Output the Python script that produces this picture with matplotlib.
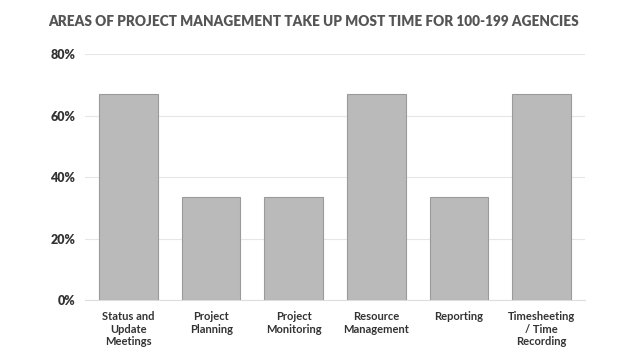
import matplotlib
matplotlib.use('Agg')
import matplotlib.pyplot as plt
from matplotlib.ticker import FuncFormatter

categories = ['Status and\nUpdate\nMeetings', 'Project\nPlanning', 'Project\nMonitoring',
              'Resource\nManagement', 'Reporting', 'Timesheeting\n/ Time\nRecording']
values = [67, 33.5, 33.5, 67, 33.5, 67]
yticks = [0, 20, 40, 60, 80]

plt.rcParams['font.family'] = ['Lato', 'DejaVu Sans']

fig = plt.figure(figsize=(6.28, 3.53), dpi=100)
ax = fig.add_axes([0.135, 0.150, 0.797, 0.697])

x = range(len(categories))
ax.bar(x, values, width=0.71, color='#bababa', edgecolor='#9a9a9a', linewidth=0.8, zorder=3)

ax.set_ylim(0, 80)
ax.set_xlim(-0.53, 5.53)
ax.set_yticks(yticks)
ax.yaxis.set_major_formatter(FuncFormatter(lambda v, p: f'{int(v)}%'))
ax.set_xticks(list(x))
ax.set_xticklabels(categories, fontsize=8, fontweight='bold', color='#333333', linespacing=1.15)
ax.tick_params(axis='y', labelsize=9, labelcolor='#333333', length=0, pad=7)
ax.tick_params(axis='x', length=0, pad=8)
for lab in ax.get_yticklabels():
    lab.set_fontweight('heavy')

ax.grid(axis='y', color='#e6e6e6', linewidth=0.8, zorder=0)
for s in ['top', 'right', 'left']:
    ax.spines[s].set_visible(False)
ax.spines['bottom'].set_color('#dddddd')

fig.text(0.5, 0.94, 'AREAS OF PROJECT MANAGEMENT TAKE UP MOST TIME FOR 100-199 AGENCIES',
         ha='center', va='center', fontsize=9.8, fontweight='heavy', color='#555555')

fig.savefig('out.png', dpi=100, facecolor='white')
